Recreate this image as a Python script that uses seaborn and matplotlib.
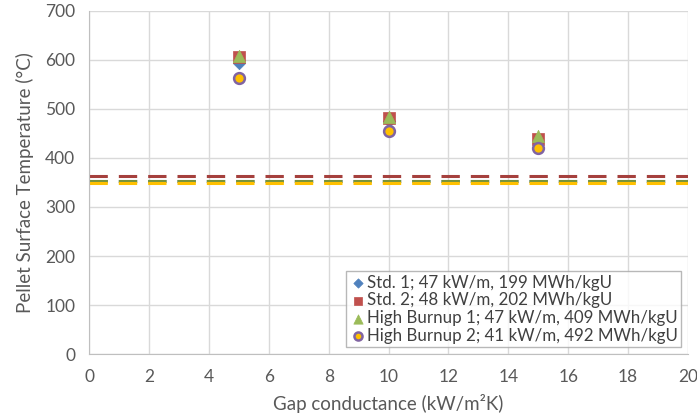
import pandas as pd
import seaborn as sns
import matplotlib.pyplot as plt

# gap conductance settings (kW/m2K)
gap_conductance = [5, 10, 15]

# pellet surface temperature (degC) per case
std1 = [594, 475, 432]
std2 = [605, 481, 439]
hb1 = [607, 483, 444]
hb2 = [564, 455, 421]

# reference level per case (dashed lines)
ref_levels = [352, 364, 352, 349]

labels = ['Std. 1; 47 kW/m, 199 MWh/kgU',
          'Std. 2; 48 kW/m, 202 MWh/kgU',
          'High Burnup 1; 47 kW/m, 409 MWh/kgU',
          'High Burnup 2; 41 kW/m, 492 MWh/kgU']

colors = ['#4F81BD', '#C0504D', '#9BBB59', '#FFC000']
edges = ['#4F81BD', '#C0504D', '#9BBB59', '#8064A2']
line_colors = ['#4F81BD', '#A5403D', '#77933C', '#FFC000']
markers = ['D', 's', '^', 'o']
sizes = [40, 70, 80, 60]

sns.set_style('white')
plt.rcParams['font.family'] = ['Lato', 'DejaVu Sans']

df = pd.DataFrame({
    'x': gap_conductance * 4,
    'T': std1 + std2 + hb1 + hb2,
    'case': [l for l in labels for _ in gap_conductance],
})

fig, ax = plt.subplots(figsize=(6.97, 4.19), dpi=100)
fig.subplots_adjust(left=0.128, right=0.987, bottom=0.155, top=0.974)

# dashed reference lines
for lvl, c in zip(ref_levels, line_colors):
    ax.axhline(lvl, color=c, lw=2.2, ls=(0, (6, 3.6)), zorder=2)

for i, lab in enumerate(labels):
    sub = df[df['case'] == lab]
    sns.scatterplot(data=sub, x='x', y='T', ax=ax, marker=markers[i],
                    s=sizes[i], color=colors[i], edgecolor=edges[i],
                    linewidth=1.8 if i == 3 else 0.5, label=lab, zorder=3)

ax.set_xlim(0, 20)
ax.set_ylim(0, 700)
ax.set_xticks(range(0, 21, 2))
ax.set_yticks(range(0, 701, 100))
ax.grid(True, color='#D9D9D9', lw=1)
ax.set_axisbelow(True)
for s in ['top', 'right']:
    ax.spines[s].set_visible(False)
for s in ['left', 'bottom']:
    ax.spines[s].set_color('#BFBFBF')
ax.tick_params(axis='both', length=0, labelsize=12.5, colors='#595959')
ax.tick_params(axis='x', pad=11)
ax.tick_params(axis='y', pad=10)
ax.set_xlabel('Gap conductance (kW/m²K)', fontsize=13.5, color='#595959', labelpad=6)
ax.set_ylabel('Pellet Surface Temperature (°C)', fontsize=13.5, color='#595959', labelpad=8)

leg = ax.legend(loc='lower right', fontsize=12.2, frameon=True, fancybox=False,
                borderpad=0.2, handletextpad=0.05, handlelength=1.0,
                labelspacing=0.1, borderaxespad=0.4, edgecolor='#A6A6A6',
                markerscale=0.75)
leg.get_frame().set_linewidth(1)
for t in leg.get_texts():
    t.set_color('#404040')

fig.savefig('out.png', dpi=100)
